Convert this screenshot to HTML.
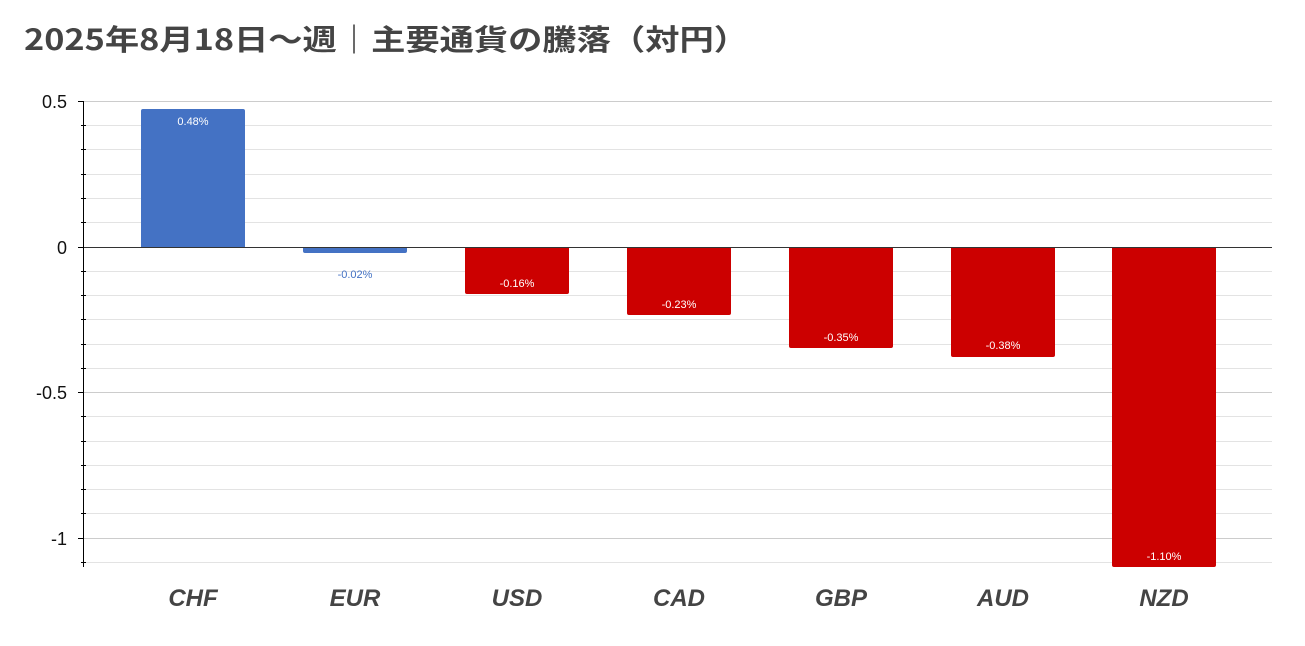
<!DOCTYPE html>
<html><head><meta charset="utf-8"><style>
body{margin:0;background:#fff;width:1305px;height:646px;overflow:hidden}
svg{display:block}
</style></head><body>
<svg width="1305" height="646" xmlns="http://www.w3.org/2000/svg">
<text x="24" y="50" font-family="'Noto Sans CJK JP',sans-serif" font-weight="bold" font-size="29" fill="#444" textLength="724" lengthAdjust="spacingAndGlyphs">2025年8月18日～週｜主要通貨の騰落（対円）</text>
<g stroke="#e3e3e3" stroke-width="1">
<line x1="84" x2="1272" y1="125.5" y2="125.5"/><line x1="84" x2="1272" y1="149.5" y2="149.5"/><line x1="84" x2="1272" y1="174.5" y2="174.5"/><line x1="84" x2="1272" y1="198.5" y2="198.5"/><line x1="84" x2="1272" y1="222.5" y2="222.5"/>
<line x1="84" x2="1272" y1="271.5" y2="271.5"/><line x1="84" x2="1272" y1="295.5" y2="295.5"/><line x1="84" x2="1272" y1="319.5" y2="319.5"/><line x1="84" x2="1272" y1="344.5" y2="344.5"/><line x1="84" x2="1272" y1="368.5" y2="368.5"/>
<line x1="84" x2="1272" y1="416.5" y2="416.5"/><line x1="84" x2="1272" y1="441.5" y2="441.5"/><line x1="84" x2="1272" y1="465.5" y2="465.5"/><line x1="84" x2="1272" y1="489.5" y2="489.5"/><line x1="84" x2="1272" y1="513.5" y2="513.5"/><line x1="84" x2="1272" y1="562.5" y2="562.5"/>
</g>
<g stroke="#cccccc" stroke-width="1">
<line x1="84" x2="1272" y1="101.5" y2="101.5"/><line x1="84" x2="1272" y1="392.5" y2="392.5"/><line x1="84" x2="1272" y1="538.5" y2="538.5"/>
</g>
<g>
<path d="M141 247 V111 Q141 109 143 109 H243 Q245 109 245 111 V247Z" fill="#4472c4"/>
<path d="M303 247 V251 Q303 253 305 253 H405 Q407 253 407 251 V247Z" fill="#4472c4"/>
<path d="M465 247 V292 Q465 294 467 294 H567 Q569 294 569 292 V247Z" fill="#cc0000"/>
<path d="M627 247 V313 Q627 315 629 315 H729 Q731 315 731 313 V247Z" fill="#cc0000"/>
<path d="M789 247 V346 Q789 348 791 348 H891 Q893 348 893 346 V247Z" fill="#cc0000"/>
<path d="M951 247 V355 Q951 357 953 357 H1053 Q1055 357 1055 355 V247Z" fill="#cc0000"/>
<path d="M1112 247 V565 Q1112 567 1114 567 H1214 Q1216 567 1216 565 V247Z" fill="#cc0000"/>
</g>
<line x1="84" x2="1272" y1="247.5" y2="247.5" stroke="#333" stroke-width="1"/>
<g stroke="#000" stroke-width="1">
<line x1="83.5" x2="83.5" y1="101" y2="567"/>
<line x1="78" x2="84" y1="101.5" y2="101.5"/><line x1="78" x2="84" y1="247.5" y2="247.5"/><line x1="78" x2="84" y1="392.5" y2="392.5"/><line x1="78" x2="84" y1="538.5" y2="538.5"/>
<line x1="81" x2="86" y1="125.5" y2="125.5"/><line x1="81" x2="86" y1="149.5" y2="149.5"/><line x1="81" x2="86" y1="174.5" y2="174.5"/><line x1="81" x2="86" y1="198.5" y2="198.5"/><line x1="81" x2="86" y1="222.5" y2="222.5"/>
<line x1="81" x2="86" y1="271.5" y2="271.5"/><line x1="81" x2="86" y1="295.5" y2="295.5"/><line x1="81" x2="86" y1="319.5" y2="319.5"/><line x1="81" x2="86" y1="344.5" y2="344.5"/><line x1="81" x2="86" y1="368.5" y2="368.5"/>
<line x1="81" x2="86" y1="416.5" y2="416.5"/><line x1="81" x2="86" y1="441.5" y2="441.5"/><line x1="81" x2="86" y1="465.5" y2="465.5"/><line x1="81" x2="86" y1="489.5" y2="489.5"/><line x1="81" x2="86" y1="513.5" y2="513.5"/><line x1="81" x2="86" y1="562.5" y2="562.5"/>
</g>
<g font-family="'Liberation Sans',sans-serif" font-size="18" fill="#111" text-anchor="end">
<text x="67" y="108">0.5</text><text x="67" y="254">0</text><text x="67" y="399">-0.5</text><text x="67" y="545">-1</text>
</g>
<g font-family="'Liberation Sans',sans-serif" font-size="11" fill="#fff" text-anchor="middle">
<text x="193" y="125">0.48%</text>
<text x="355" y="278" fill="#4472c4">-0.02%</text>
<text x="517" y="287">-0.16%</text>
<text x="679" y="308">-0.23%</text>
<text x="841" y="341">-0.35%</text>
<text x="1003" y="349">-0.38%</text>
<text x="1164" y="560">-1.10%</text>
</g>
<g font-family="'Liberation Sans',sans-serif" font-weight="bold" font-style="italic" font-size="24" fill="#444" text-anchor="middle">
<text x="193" y="606">CHF</text><text x="355" y="606">EUR</text><text x="517" y="606">USD</text><text x="679" y="606">CAD</text><text x="841" y="606">GBP</text><text x="1003" y="606">AUD</text><text x="1164" y="606">NZD</text>
</g>
</svg>
</body></html>
